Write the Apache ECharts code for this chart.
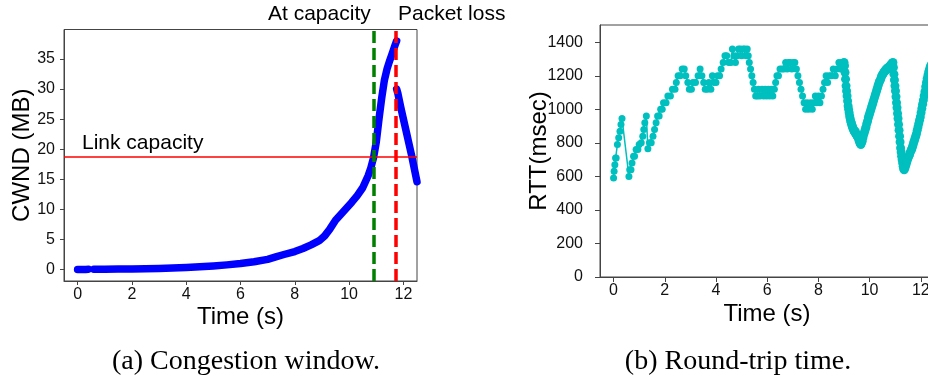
<!DOCTYPE html>
<html>
<head>
<meta charset="utf-8">
<script src="https://cdn.jsdelivr.net/npm/echarts@6/dist/echarts.min.js"></script>
<style>html,body{margin:0;padding:0;background:#fff;}#c{width:928px;height:382px;}</style>
</head>
<body>
<div id="c"></div>
<script>
// ---- Data: (a) congestion window (MB) over time (s) ----
const cwndSeg1 = [[0,0],[0.1,0],[0.2,0.02],[0.3,0.03],[0.4,0.05]];
const cwndSeg2 = [[0.6,0.05],[1.0,0.06],[1.5,0.08],[2.0,0.1],[2.5,0.14],[3.0,0.18],[3.5,0.25],[4.0,0.33],[4.5,0.45],[5.0,0.6],[5.5,0.78],[6.0,1.0],[6.5,1.3],[7.0,1.7],[7.3,2.1],[7.6,2.5],[8.0,3.0],[8.3,3.5],[8.6,4.1],[8.9,4.8],[9.1,5.6],[9.3,6.8],[9.5,8.2],[9.7,9.2],[9.9,10.2],[10.1,11.2],[10.3,12.3],[10.5,13.6],[10.7,15.6],[10.8,16.9],[10.9,18.6],[11.0,21.2],[11.1,25.0],[11.2,28.5],[11.3,31.5],[11.4,33.4],[11.5,34.8],[11.6,36.1],[11.7,37.4],[11.75,38.0]];
const cwndSeg3 = [[11.75,30.0],[11.8,29.2],[11.9,27.0],[12.0,25.0],[12.1,23.0],[12.2,21.0],[12.3,19.0],[12.4,16.8],[12.5,14.6]];
const linkCapacity = 18.7;
const atCapacityTime = 10.9;
const packetLossTime = 11.71;
const cwndXTicks = [0,2,4,6,8,10,12];
const cwndYTicks = [0,5,10,15,20,25,30,35];

// ---- Data: (b) round-trip time (msec) over time (s) ----
const rttT = [0.00,0.02,0.05,0.08,0.10,0.15,0.20,0.25,0.29,0.33,0.60,0.63,0.68,0.72,0.78,0.82,0.88,0.95,1.00,1.08,1.14,1.18,1.22,1.28,1.34,1.40,1.47,1.54,1.60,1.66,1.72,1.78,1.84,1.90,1.95,2.05,2.12,2.22,2.30,2.40,2.45,2.52,2.60,2.68,2.76,2.82,2.90,2.96,3.04,3.10,3.20,3.30,3.38,3.45,3.52,3.58,3.66,3.72,3.80,3.86,3.92,4.00,4.06,4.14,4.20,4.28,4.35,4.42,4.50,4.58,4.64,4.70,4.76,4.82,4.88,4.95,5.00,5.06,5.12,5.18,5.22,5.26,5.30,5.35,5.40,5.45,5.50,5.55,5.62,5.66,5.72,5.80,5.86,5.92,5.98,6.04,6.10,6.16,6.22,6.28,6.33,6.38,6.44,6.50,6.58,6.65,6.72,6.78,6.84,6.90,6.96,7.02,7.08,7.14,7.20,7.26,7.32,7.38,7.44,7.50,7.56,7.62,7.70,7.76,7.82,7.88,7.94,8.00,8.06,8.12,8.18,8.24,8.30,8.36,8.42,8.50,8.58,8.66,8.72,8.80,8.86,8.92,8.98,
  9.00,9.02,9.04,9.06,9.08,9.10,9.12,9.14,9.16,9.18,9.20,9.22,9.24,9.26,9.28,9.30,9.32,9.34,9.36,9.38,9.40,9.42,9.44,9.46,9.48,9.50,9.52,9.54,9.56,9.58,9.60,9.62,9.64,9.66,9.68,
  9.71,9.74,9.77,9.80,9.83,9.86,9.89,9.92,9.95,9.98,10.01,10.04,10.07,10.10,10.13,10.16,10.19,10.22,10.25,10.28,10.31,10.34,10.37,10.40,10.43,10.46,10.49,10.52,10.55,10.58,10.61,10.64,10.67,10.70,10.73,10.76,10.79,10.82,10.85,10.88,10.91,
  10.93,10.95,10.97,10.99,11.01,11.03,11.05,11.07,11.09,11.11,11.13,11.15,11.17,11.19,11.21,11.23,11.25,11.27,11.29,11.31,11.33,11.35,
  11.38,11.41,11.44,11.47,11.50,11.53,11.56,11.59,11.62,11.65,11.68,11.71,11.74,11.77,11.80,11.83,11.86,11.89,11.92,11.95,11.98,12.01,12.04,12.07,12.10,12.13,12.16,12.19,12.22,12.25,12.28,12.31,12.34,12.37,12.40];
const rttV = [590,630,670,710,710,790,830,870,910,945,600,640,640,680,720,720,760,760,790,800,840,880,920,960,765,800,800,840,880,920,960,960,1000,1000,1040,1040,1080,1080,1120,1120,1160,1200,1200,1240,1240,1200,1160,1120,1120,1160,1160,1200,1240,1200,1160,1120,1120,1160,1120,1200,1160,1160,1200,1200,1240,1280,1320,1320,1280,1280,1360,1320,1280,1320,1360,1360,1320,1360,1360,1320,1360,1320,1280,1240,1200,1160,1120,1080,1080,1120,1080,1120,1080,1120,1080,1120,1080,1120,1080,1120,1160,1200,1200,1240,1240,1240,1280,1240,1280,1280,1240,1280,1280,1240,1200,1160,1120,1080,1040,1000,1040,1000,1040,1000,1040,1080,1040,1080,1040,1080,1120,1160,1200,1160,1200,1200,1240,1200,1240,1280,1240,1280,1280,
  1280,1260,1220,1180,1140,1110,1080,1050,1020,1000,980,960,945,930,920,910,900,890,885,875,870,865,870,855,850,845,840,835,830,820,810,800,795,790,800,
  810,830,850,865,880,895,915,930,950,965,980,995,1010,1025,1040,1055,1070,1085,1100,1115,1130,1145,1160,1170,1180,1195,1205,1210,1220,1225,1230,1240,1235,1245,1250,1255,1250,1265,1270,1275,1280,
  1250,1210,1175,1140,1110,1075,1040,1010,975,945,910,875,840,805,770,745,720,700,680,660,645,640,
  650,665,680,695,710,720,730,745,755,765,780,795,810,825,840,855,875,895,915,935,955,980,1005,1030,1055,1080,1105,1135,1160,1185,1205,1225,1240,1255,1265];
const rttXTicks = [0,2,4,6,8,10,12];
const rttYTicks = [0,200,400,600,800,1000,1200,1400];

const rttData = rttT.map((t, i) => [t, rttV[i]]);

const FONT = 'Liberation Sans';
const AX = '#444';
const plain = v => String(v);
function axisCfg(idx, min, max, ticks, name, gap, margin, tickLen, namePad) {
  return {
    type: 'value', gridIndex: idx, min: min, max: max,
    name: name, nameLocation: 'middle', nameGap: gap, nameMoveOverlap: false,
    nameTextStyle: {fontFamily: FONT, fontSize: 24, color: '#000', padding: namePad || 0},
    axisLine: {show: true, onZero: false, lineStyle: {color: AX, width: 1}},
    axisTick: {show: true, inside: false, length: tickLen, customValues: ticks, lineStyle: {color: AX}},
    axisLabel: {show: true, customValues: ticks, margin: margin, formatter: plain, fontFamily: FONT, fontSize: 16, color: '#111'},
    splitLine: {show: false}
  };
}

function cwndSeries(data) {
  return {
    type: 'line', xAxisIndex: 0, yAxisIndex: 0, data: data,
    showSymbol: false, symbol: 'none', smooth: false,
    lineStyle: {color: '#0000ff', width: 7.5, cap: 'round', join: 'round'},
    z: 2, animation: false
  };
}

const chart = echarts.init(document.getElementById('c'), null, {renderer: 'canvas'});
chart.setOption({
  animation: false,
  backgroundColor: '#fff',
  grid: [
    {left: 64, top: 29.5, width: 353, height: 251.5, show: true, borderColor: AX, borderWidth: 1, backgroundColor: 'transparent', outerBoundsMode: 'none', containLabel: false},
    {left: 600, top: 25, width: 360, height: 252, show: true, borderColor: AX, borderWidth: 1, backgroundColor: 'transparent', outerBoundsMode: 'none', containLabel: false}
  ],
  xAxis: [
    axisCfg(0, -0.5, 12.5, cwndXTicks, 'Time (s)', 24, 6, 4),
    axisCfg(1, -0.53, 13.53, rttXTicks, 'Time (s)', 25, 6, 5, [0, 26, 0, 0])
  ],
  yAxis: [
    axisCfg(0, -1.9, 39.9, cwndYTicks, 'CWND (MB)', 30, 9, 4),
    axisCfg(1, 0, 1503, rttYTicks, 'RTT(msec)', 49, 17, 5)
  ],
  series: [
    cwndSeries(cwndSeg1),
    cwndSeries(cwndSeg2),
    cwndSeries(cwndSeg3),
    {
      type: 'line', xAxisIndex: 0, yAxisIndex: 0, data: [], z: 5, animation: false,
      markLine: {
        silent: true, symbol: ['none','none'], animation: false,
        label: {show: false},
        data: [
          {yAxis: linkCapacity, lineStyle: {color: '#ff0000', width: 1.6, type: 'solid'}},
          {xAxis: atCapacityTime, lineStyle: {color: '#008000', width: 3.5, type: [12, 5]}},
          {xAxis: packetLossTime, lineStyle: {color: '#ff0000', width: 3.5, type: [12, 5]}}
        ]
      }
    },
    {
      type: 'line', xAxisIndex: 1, yAxisIndex: 1, data: rttData,
      symbol: 'circle', symbolSize: (v) => (v[0] >= 9 ? 9 : 7), showSymbol: true, showAllSymbol: true,
      itemStyle: {color: '#00bfbf'},
      lineStyle: {color: '#00bfbf', width: 1.5},
      clip: true,
      animation: false
    }
  ],
  graphic: [
    {type: 'text', silent: true, style: {text: 'At capacity', x: 268, y: 14.5, font: '21px "Liberation Sans"', fill: '#000', textAlign: 'left', textVerticalAlign: 'middle', align: 'left', verticalAlign: 'middle'}},
    {type: 'text', silent: true, style: {text: 'Packet loss', x: 398, y: 14.5, font: '21px "Liberation Sans"', fill: '#000', textAlign: 'left', textVerticalAlign: 'middle', align: 'left', verticalAlign: 'middle'}},
    {type: 'text', silent: true, style: {text: 'Link capacity', x: 82, y: 143, font: '21px "Liberation Sans"', fill: '#000', textAlign: 'left', textVerticalAlign: 'middle', align: 'left', verticalAlign: 'middle'}},
    {type: 'text', silent: true, style: {text: '(a) Congestion window.', x: 246, y: 362, font: '28px "Liberation Serif"', fill: '#000', textAlign: 'center', textVerticalAlign: 'middle', align: 'center', verticalAlign: 'middle'}},
    {type: 'text', silent: true, style: {text: '(b) Round-trip time.', x: 738, y: 362, font: '28px "Liberation Serif"', fill: '#000', textAlign: 'center', textVerticalAlign: 'middle', align: 'center', verticalAlign: 'middle'}}
  ]
});
</script>
</body>
</html>
